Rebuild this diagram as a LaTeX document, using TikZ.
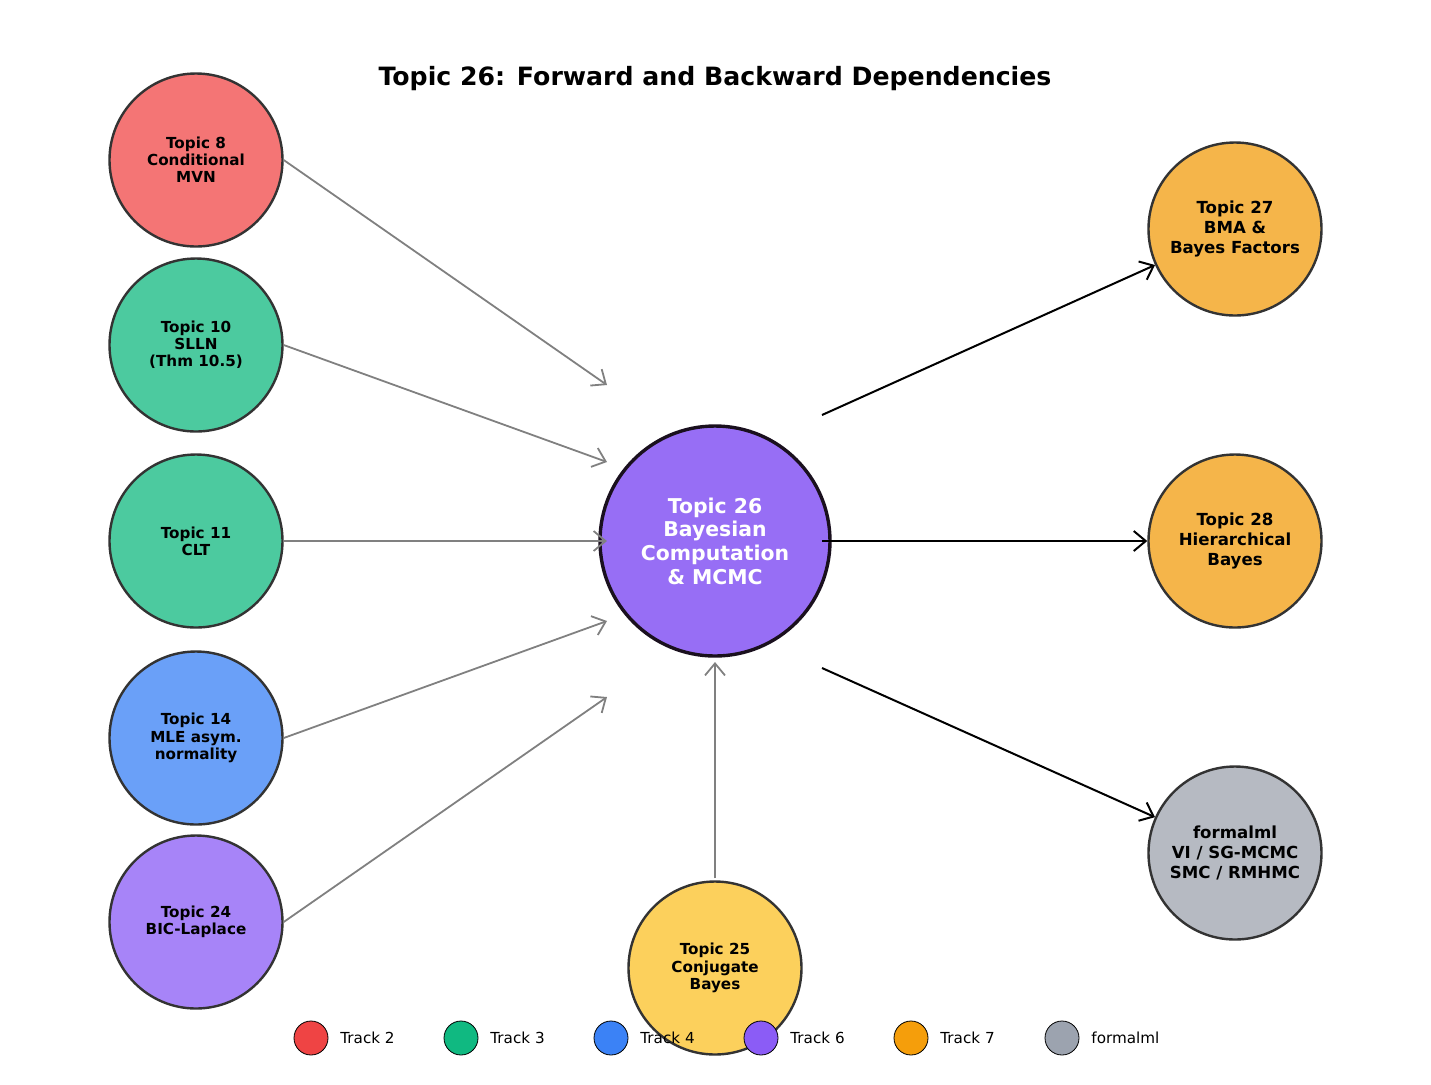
\documentclass[tikz,border=0pt]{standalone}
\usepackage{fontspec}
\setmainfont{DejaVu Sans}
\usetikzlibrary{arrows.meta}
\definecolor{ctwo}{HTML}{F47575}
\definecolor{cthree}{HTML}{4CCA9F}
\definecolor{cfour}{HTML}{6AA0F8}
\definecolor{csix}{HTML}{A784F8}
\definecolor{cseven}{HTML}{F5B54A}
\definecolor{cfml}{HTML}{B6BAC2}
\definecolor{cyel}{HTML}{FCD05C}
\definecolor{ccen}{HTML}{976EF5}
\definecolor{ltwo}{HTML}{EF4444}
\definecolor{lthree}{HTML}{10B981}
\definecolor{lfour}{HTML}{3B82F6}
\definecolor{lsix}{HTML}{8B5CF6}
\definecolor{lseven}{HTML}{F59E0B}
\definecolor{lfml}{HTML}{9CA3AF}
\tikzset{
  topic/.style={circle,draw={rgb,255:red,51;green,51;blue,51},line width=1.2pt,minimum size=86.5pt,inner sep=0pt,align=center,font=\fontsize{7.6}{8.6}\selectfont\bfseries},
  bigtopic/.style={topic,minimum size=86.5pt,font=\fontsize{8.3}{10}\selectfont\bfseries},
  back/.style={-{Straight Barb[length=6pt,width=10pt]},draw={rgb,255:red,128;green,128;blue,128},line width=0.9pt},
  fwd/.style={-{Straight Barb[length=6pt,width=10pt]},black,line width=1pt},
  legdot/.style={circle,draw=black,line width=0.4pt,minimum size=17pt,inner sep=0pt},
  legtext/.style={anchor=west,font=\fontsize{7.6}{9}\selectfont,inner sep=0pt}
}
\begin{document}
\begin{tikzpicture}[x=0.5pt,y=-0.5pt]
\useasboundingbox (0,0) rectangle (1431,1084);

% Title
\node (title) at (715,79) {\fontsize{12.6}{15}\selectfont\bfseries Topic 26: Forward and Backward Dependencies};

% Prerequisites
\node[topic,fill=ctwo]   (t8)  at (196,160) {Topic 8\\Conditional\\MVN};
\node[topic,fill=cthree] (t10) at (196,345) {Topic 10\\SLLN\\(Thm 10.5)};
\node[topic,fill=cthree] (t11) at (196,541) {Topic 11\\CLT};
\node[topic,fill=cfour]  (t14) at (196,738) {Topic 14\\MLE asym.\\normality};
\node[topic,fill=csix]   (t24) at (196,922) {Topic 24\\BIC-Laplace};
\node[topic,fill=cyel]   (t25) at (715,968) {Topic 25\\Conjugate\\Bayes};

% Centre
\node[circle,draw={rgb,255:red,26;green,16;blue,30},line width=1.7pt,fill=ccen,minimum size=115pt,inner sep=0pt,align=center,text=white,font=\fontsize{10.2}{11.8}\selectfont\bfseries] (t26) at (715,541) {Topic 26\\Bayesian\\Computation\\\& MCMC};

% Successors
\node[bigtopic,fill=cseven] (t27) at (1235,229) {Topic 27\\BMA \&\\Bayes Factors};
\node[bigtopic,fill=cseven] (t28) at (1235,541) {Topic 28\\Hierarchical\\Bayes};
\node[bigtopic,fill=cfml]   (fml) at (1235,853) {formalml\\VI / SG-MCMC\\SMC / RMHMC};

% Arrow ends near the centre
\coordinate (i1) at (607,385);
\coordinate (i2) at (607,462);
\coordinate (i3) at (607,541);
\coordinate (i4) at (607,621);
\coordinate (i5) at (607,697);
\coordinate (i6) at (715,662);
\coordinate (o1) at (822,415);
\coordinate (o2) at (822,541);
\coordinate (o3) at (822,668);

\draw[back] (t8.east) -- (i1);
\draw[back] (t10.east) -- (i2);
\draw[back] (t11.east) -- (i3);
\draw[back] (t14.east) -- (i4);
\draw[back] (t24.east) -- (i5);
\draw[back] (t25.north) ++(0,-2) -- (i6);

\draw[fwd] (o1) -- (t27);
\draw[fwd] (o2) -- (t28);
\draw[fwd] (o3) -- (fml);

% Legend
\foreach \lx/\lc/\lt [count=\i] in {311/ltwo/Track 2,461/lthree/Track 3,611/lfour/Track 4,761/lsix/Track 6,911/lseven/Track 7,1062/lfml/formalml}{
  \node[legdot,fill=\lc] (leg\i) at (\lx,1038) {};
  \node[legtext] (legt\i) at (\lx+29,1038) {\lt};
}
\end{tikzpicture}
\end{document}
